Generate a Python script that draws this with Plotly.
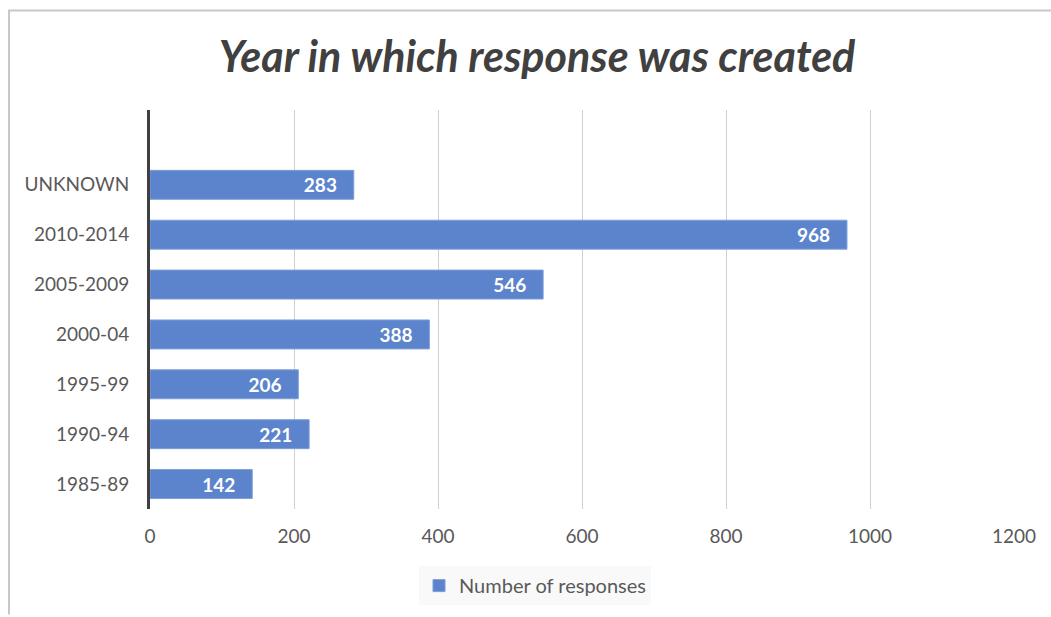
import plotly.graph_objects as go

categories = ["1985-89", "1990-94", "1995-99", "2000-04", "2005-2009", "2010-2014", "UNKNOWN"]
responses = [142, 221, 206, 388, 546, 968, 283]
x_ticks = [0, 200, 400, 600, 800, 1000, 1200]
series_name = "Number of responses"
title_text = "Year in which response was created"

W, H = 1051, 617
L, R, T, B = 150, 37, 110, 106
PW, PH = W - L - R, H - T - B

fig = go.Figure()
fig.add_trace(go.Bar(
    y=categories, x=responses, orientation="h", name=series_name,
    marker=dict(color="#5B84CC", line=dict(color="#7C9ED9", width=1)),
    width=0.58,
    text=[f"{v}" for v in responses],
    texttemplate="%{text}   ",
    textposition="inside", insidetextanchor="end",
    textfont=dict(family="Lato", size=19, color="white", weight="bold"),
    showlegend=True, hoverinfo="skip",
))

fig.update_layout(
    width=W, height=H,
    margin=dict(l=L, r=R, t=T, b=B),
    paper_bgcolor="white", plot_bgcolor="white",
    font=dict(family="Lato", color="#595959", size=19),
    title=dict(text=title_text, x=537 / W, xanchor="center", y=1 - 57 / H, yanchor="middle",
               font=dict(family="Lato", size=43, color="#404040", style="italic", weight="bold")),
    uniformtext=dict(minsize=19, mode="show"),
    legend=dict(orientation="h", x=(535 - L) / PW, xanchor="center", y=-(588 - (H - B)) / PH,
                yanchor="middle", bgcolor="#F9F9F9", font=dict(size=20, color="#595959"),
                itemwidth=30),
    shapes=[
        dict(type="line", xref="paper", yref="paper",
             x0=(8 - L) / PW, x1=(W - L) / PW,
             y0=1 + (T - 10) / PH, y1=1 + (T - 10) / PH,
             line=dict(color="#C8C8C8", width=2)),
        dict(type="line", xref="paper", yref="paper",
             x0=(9 - L) / PW, x1=(9 - L) / PW,
             y0=1 + (T - 10) / PH, y1=-B / PH,
             line=dict(color="#C8C8C8", width=2)),
    ],
)
fig.update_xaxes(range=[0, 1200], tickvals=x_ticks, showgrid=True, gridcolor="#D0D0D0", gridwidth=1,
                 zeroline=False, showline=False, ticks="", ticklabelstandoff=14,
                 tickfont=dict(size=19, color="#595959"), fixedrange=True)
fig.update_yaxes(type="category", categoryorder="array", categoryarray=categories,
                 range=[-0.5, 7.5], showgrid=False, zeroline=False,
                 showline=True, linecolor="#404040", linewidth=3,
                 ticks="", ticklabelstandoff=14,
                 tickfont=dict(size=19, color="#595959"), fixedrange=True)

fig.write_html("out.html", config={"displayModeBar": False},
               post_script="document.body.style.margin='0';document.body.style.overflow='hidden';")
